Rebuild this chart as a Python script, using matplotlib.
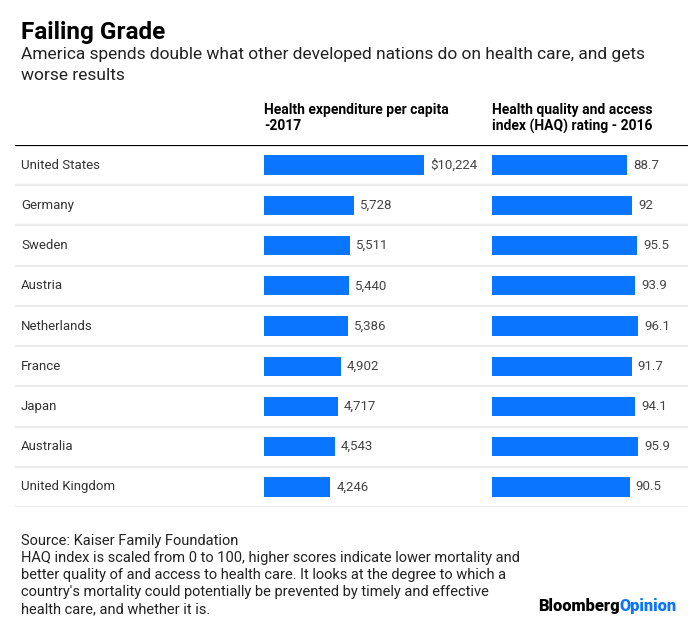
import matplotlib
matplotlib.use('Agg')
from matplotlib import pyplot as plt

plt.rcParams['font.family'] = ['Roboto', 'DejaVu Sans']

# data
countries = ['United States', 'Germany', 'Sweden', 'Austria', 'Netherlands',
             'France', 'Japan', 'Australia', 'United Kingdom']
spend = [10224, 5728, 5511, 5440, 5386, 4902, 4717, 4543, 4246]
spend_labels = ['$10,224', '5,728', '5,511', '5,440', '5,386', '4,902', '4,717', '4,543', '4,246']
haq = [88.7, 92, 95.5, 93.9, 96.1, 91.7, 94.1, 95.9, 90.5]
haq_labels = ['88.7', '92', '95.5', '93.9', '96.1', '91.7', '94.1', '95.9', '90.5']

BLUE = '#0a75ff'
W, H = 695, 627

fig = plt.figure(figsize=(W / 100, H / 100), dpi=100)
fig.patch.set_facecolor('white')

def px(x, y):
    return x / W, 1 - y / H

def box(x0, y0, x1, y1):
    return [x0 / W, 1 - y1 / H, (x1 - x0) / W, (y1 - y0) / H]

n = len(countries)
top, bottom = 145, 507

# table frame: lines + row labels
tab = fig.add_axes(box(15, top, 688, bottom))
tab.set_xlim(0, 1)
tab.set_ylim(n - 0.5, -0.5)
tab.axis('off')
tab.axhline(-0.5, color='black', lw=1.6)
for i in range(n):
    tab.axhline(i + 0.5, color='#ebebeb', lw=1.6)
    tab.text(6 / 673, i, countries[i], va='center', ha='left',
             fontsize=9.5, color='#333333')

# expenditure bars
ax1 = fig.add_axes(box(264, top, 464, bottom))
ax1.barh(range(n), spend, height=0.48, color=BLUE, left=0)
ax1.set_xlim(0, 10224 * 200 / 160)
ax1.set_ylim(n - 0.5, -0.5)
ax1.axis('off')
for i, v in enumerate(spend):
    ax1.annotate(spend_labels[i], (v, i), xytext=(4.3, 0), textcoords='offset points',
                 va='center', ha='left', fontsize=9.5, color='#444444')

# HAQ bars
ax2 = fig.add_axes(box(492, top, 687, bottom))
ax2.barh(range(n), haq, height=0.48, color=BLUE, left=0)
ax2.set_xlim(0, 195 / (135 / 88.7))
ax2.set_ylim(n - 0.5, -0.5)
ax2.axis('off')
for i, v in enumerate(haq):
    ax2.annotate(haq_labels[i], (v, i), xytext=(4.3, 0), textcoords='offset points',
                 va='center', ha='left', fontsize=9.5, color='#444444')

# titles
fig.text(*px(21, 33), 'Failing Grade', fontsize=17.5, fontweight='bold', va='center', color='black')
fig.text(*px(21, 55), 'America spends double what other developed nations do on health care, and gets',
         fontsize=12.5, va='center', color='#222222')
fig.text(*px(21, 76), 'worse results', fontsize=12.5, va='center', color='#222222')

# column headers
fig.text(*px(264, 110), 'Health expenditure per capita', fontsize=10, fontweight='bold', va='center')
fig.text(*px(264, 126), '-2017', fontsize=10, fontweight='bold', va='center')
fig.text(*px(492, 110), 'Health quality and access', fontsize=10, fontweight='bold', va='center')
fig.text(*px(492, 126), 'index (HAQ) rating - 2016', fontsize=10, fontweight='bold', va='center')

# footer
footer = ['Source: Kaiser Family Foundation',
          'HAQ index is scaled from 0 to 100, higher scores indicate lower mortality and',
          'better quality of and access to health care. It looks at the degree to which a',
          "country's mortality could potentially be prevented by timely and effective",
          'health care, and whether it is.']
for k, line in enumerate(footer):
    fig.text(*px(21, 541 + 17 * k), line, fontsize=10.5, va='center', color='#222222')

t = fig.text(*px(677, 606), 'Opinion', fontsize=11.8, fontweight='heavy', va='center',
             ha='right', color=BLUE)
fig.canvas.draw()
bb = t.get_window_extent()
fig.text(bb.x0 / W, 1 - 606 / H, 'Bloomberg', fontsize=11.8, fontweight='heavy', va='center',
         ha='right', color='black')

fig.savefig('out.png', dpi=100, facecolor='white')
